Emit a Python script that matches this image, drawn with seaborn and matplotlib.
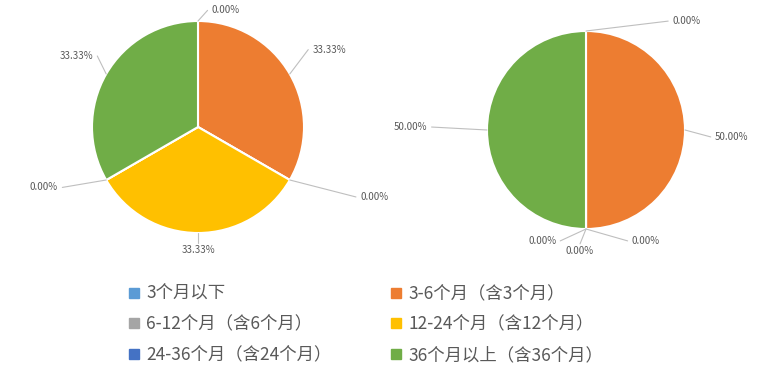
import seaborn as sns
import matplotlib.pyplot as plt
from matplotlib.lines import Line2D
import numpy as np

sns.set_theme(style="white")
plt.rcParams['font.family'] = ['Noto Sans CJK SC', 'DejaVu Sans']

categories = ['3个月以下', '3-6个月（含3个月）', '6-12个月（含6个月）',
              '12-24个月（含12个月）', '24-36个月（含24个月）', '36个月以上（含36个月）']
left_values = [0, 1, 0, 1, 0, 1]
right_values = [0, 1, 0, 0, 0, 1]

colors = sns.color_palette(['#5B9BD5', '#ED7D31', '#A5A5A5', '#FFC000', '#4472C4', '#70AD47'])

# label layout (pie-radius units): text anchor x, y, horizontal alignment
left_layout = [(0.13, 1.10, 'left'), (1.08, 0.73, 'left'), (1.53, -0.66, 'left'),
               (0.0, -1.16, 'center'), (-1.32, -0.57, 'right'), (-0.99, 0.67, 'right')]
right_layout = [(0.87, 1.10, 'left'), (1.30, -0.07, 'left'), (0.46, -1.12, 'left'),
                (-0.06, -1.22, 'center'), (-0.30, -1.12, 'right'), (-1.60, 0.03, 'right')]

W, H = 772, 378
fig = plt.figure(figsize=(W / 100, H / 100), dpi=100)


def draw_pie(cx, cy, r, values, layout):
    ax = fig.add_axes([(cx - r) / W, (H - cy - r) / H, 2 * r / W, 2 * r / H])
    wedges, _ = ax.pie(values, colors=colors, startangle=90, counterclock=False,
                       wedgeprops=dict(edgecolor='white', linewidth=1.5))
    ax.set_xlim(-1, 1)
    ax.set_ylim(-1, 1)
    ax.set_aspect('equal')
    ax.axis('off')
    total = sum(values)
    for w, v, (tx, ty, ha) in zip(wedges, values, layout):
        mid = np.deg2rad((w.theta1 + w.theta2) / 2)
        ex, ey = np.cos(mid), np.sin(mid)
        gap = 0.04 if ha == 'left' else (-0.04 if ha == 'right' else 0)
        lx, ly = tx - gap, (ty + 0.07 if ha == 'center' else ty)
        ax.plot([ex, lx], [ey, ly], color='#BFBFBF', lw=0.8, clip_on=False)
        ax.text(tx, ty, f'{v / total * 100:.2f}%', ha=ha, va='center',
                fontsize=7, color='#595959')
    return wedges


wl = draw_pie(198, 127, 106, left_values, left_layout)
draw_pie(586, 130, 99, right_values, right_layout)

order = [0, 2, 4, 1, 3, 5]
handles = [Line2D([], [], marker='s', linestyle='none', markersize=7,
                  markerfacecolor=colors[i], markeredgecolor=colors[i]) for i in order]
labels = [categories[i] for i in order]
fig.legend(handles, labels, ncol=2, loc='upper left', bbox_to_anchor=(122 / W, 1 - 278 / H),
           frameon=False, fontsize=12.5, handlelength=0.6, handletextpad=0.4,
           columnspacing=3.4, labelspacing=0.72, labelcolor='#595959', borderaxespad=0)

fig.savefig('out.png', dpi=100)
